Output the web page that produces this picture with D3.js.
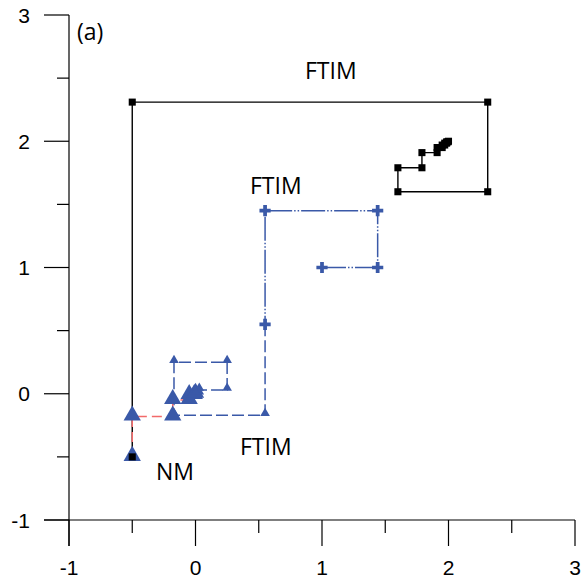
<!doctype html>
<html lang="en">
<head>
<meta charset="utf-8">
<title>Iteration paths (a)</title>
<script src="https://cdnjs.cloudflare.com/ajax/libs/d3/7.8.5/d3.min.js"></script>
<style>
    body { margin: 0; background: #fff; }
    svg text { fill: #000; }
</style>
</head>
<body>
<script>
    // iteration paths
    const ftimBlack = [[-0.5, -0.5], [-0.5, 2.31], [2.31, 2.31], [2.31, 1.6], [1.6, 1.6], [1.6, 1.79],
        [1.79, 1.79], [1.79, 1.91], [1.91, 1.91], [1.91, 1.95], [1.95, 1.95], [1.95, 1.97],
        [1.97, 1.97], [1.97, 1.985], [1.985, 1.985], [1.985, 1.995], [1.995, 1.995], [2.0, 2.0]];
    const ftimBlueA = [[1.0, 1.0], [1.44, 1.0], [1.44, 1.45], [0.55, 1.45], [0.55, 0.55]];
    const ftimBlueB = [[0.55, 0.55], [0.55, -0.17], [-0.17, -0.17], [-0.17, 0.25], [0.25, 0.25],
        [0.25, 0.03], [0.03, 0.03], [0.03, 0.0], [0.0, 0.0]];
    const nm = [[-0.5, -0.5], [-0.5, -0.18], [-0.18, -0.18], [-0.18, -0.05], [-0.05, -0.05],
        [-0.05, -0.01], [-0.01, -0.01], [0.0, 0.0]];

    const majorTicks = [-1, 0, 1, 2, 3];
    const minorTicks = [-0.5, 0.5, 1.5, 2.5];

    const width = 582, height = 586;
    const blue = "#3a59a8", red = "#f26a6a";

    const x = d3.scaleLinear().domain([-1, 3]).range([69, 575]);
    const y = d3.scaleLinear().domain([-1, 3]).range([520, 15]);

    const svg = d3.select("body").append("svg")
        .attr("width", width)
        .attr("height", height)
        .attr("font-family", "Liberation Sans, Arial, sans-serif");

    // axes (ticks drawn by hand to get the long/short look)
    const ax = svg.append("g").attr("stroke", "#000").attr("stroke-width", 1.2);
    ax.append("line").attr("x1", x(-1)).attr("x2", x(-1)).attr("y1", y(3)).attr("y2", y(-1) + 26);
    ax.append("line").attr("x1", x(-1) - 25).attr("x2", x(3)).attr("y1", y(-1)).attr("y2", y(-1));

    ax.selectAll(".xmaj").data(majorTicks).join("line")
        .attr("x1", d => x(d)).attr("x2", d => x(d))
        .attr("y1", y(-1)).attr("y2", y(-1) + 26);
    ax.selectAll(".xmin").data(minorTicks).join("line")
        .attr("x1", d => x(d)).attr("x2", d => x(d))
        .attr("y1", y(-1)).attr("y2", y(-1) + 13);
    ax.selectAll(".ymaj").data(majorTicks).join("line")
        .attr("x1", x(-1) - 25).attr("x2", x(-1))
        .attr("y1", d => y(d)).attr("y2", d => y(d));
    ax.selectAll(".ymin").data(minorTicks).join("line")
        .attr("x1", x(-1) - 12).attr("x2", x(-1))
        .attr("y1", d => y(d)).attr("y2", d => y(d));

    svg.selectAll(".xlab").data(majorTicks).join("text")
        .attr("x", d => x(d)).attr("y", y(-1) + 55)
        .attr("text-anchor", "middle").attr("font-size", 21)
        .text(d => d);
    svg.selectAll(".ylab").data(majorTicks).join("text")
        .attr("x", 30).attr("y", d => y(d)).attr("dy", "0.36em")
        .attr("text-anchor", "end").attr("font-size", 21)
        .text(d => d);

    const line = d3.line().x(d => x(d[0])).y(d => y(d[1]));

    // black FTIM path
    svg.append("path").datum(ftimBlack)
        .attr("d", line).attr("fill", "none")
        .attr("stroke", "#000").attr("stroke-width", 1.4);

    // blue dash-dot-dot FTIM path
    svg.append("path").datum(ftimBlueA)
        .attr("d", line).attr("fill", "none")
        .attr("stroke", blue).attr("stroke-width", 1.5)
        .attr("stroke-dasharray", "24,2,1.5,2,1.5,2");

    // blue dashed FTIM path
    svg.append("path").datum(ftimBlueB)
        .attr("d", line).attr("fill", "none")
        .attr("stroke", blue).attr("stroke-width", 1.5)
        .attr("stroke-dasharray", "12,4");

    // NM red dashed
    svg.append("path").datum(nm)
        .attr("d", line).attr("fill", "none")
        .attr("stroke", red).attr("stroke-width", 1.5)
        .attr("stroke-dasharray", "10,5");

    // markers
    const sym = (type, size) => d3.symbol().type(type).size(size)();

    svg.selectAll(".tri").data(nm).join("path")
        .attr("transform", d => `translate(${x(d[0])},${y(d[1]) - 1})`)
        .attr("d", sym(d3.symbolTriangle, 130))
        .attr("fill", blue);

    svg.selectAll(".sq").data(ftimBlack).join("path")
        .attr("transform", d => `translate(${x(d[0])},${y(d[1])})`)
        .attr("d", sym(d3.symbolSquare, 50))
        .attr("fill", "#000");

    svg.selectAll(".plus").data(ftimBlueA).join("path")
        .attr("transform", d => `translate(${x(d[0])},${y(d[1])})`)
        .attr("d", sym(d3.symbolCross, 70))
        .attr("fill", blue);

    svg.selectAll(".arr").data(ftimBlueB.slice(1)).join("path")
        .attr("transform", d => `translate(${x(d[0])},${y(d[1]) - 2})`)
        .attr("d", sym(d3.symbolTriangle, 40))
        .attr("fill", blue);

    // annotations
    const note = svg.append("g").attr("font-family", "Open Sans, Noto Sans, sans-serif").attr("font-size", 23);
    note.append("text").attr("x", 77).attr("y", 40).text("(a)");
    note.append("text").attr("x", 305).attr("y", 79).text("FTIM");
    note.append("text").attr("x", 250).attr("y", 194).text("FTIM");
    note.append("text").attr("x", 240).attr("y", 455).text("FTIM");
    note.append("text").attr("x", 156).attr("y", 480).text("NM");
</script>
</body>
</html>
